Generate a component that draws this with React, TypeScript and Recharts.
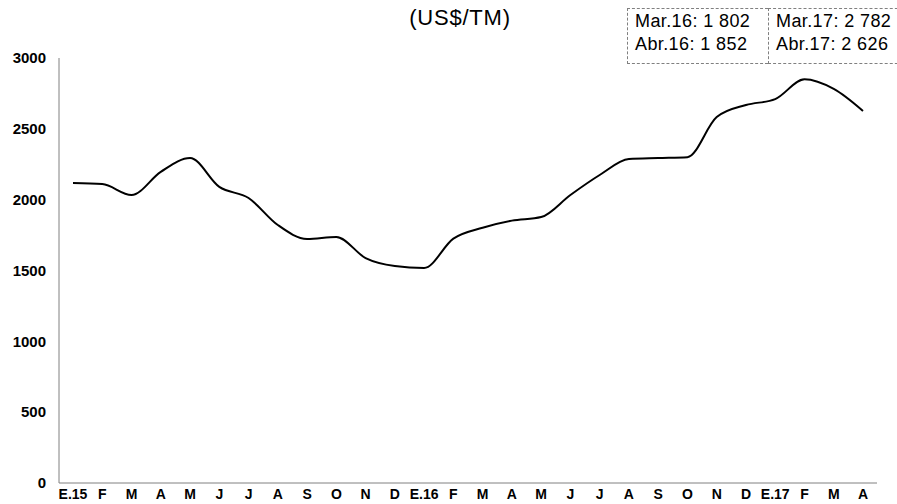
import React from "react";
import { LineChart, Line, XAxis, YAxis } from "recharts";

const categories = ["E.15","F","M","A","M","J","J","A","S","O","N","D","E.16","F","M","A","M","J","J","A","S","O","N","D","E.17","F","M","A"];
const prices = [2117,2110,2033,2196,2294,2090,2012,1821,1723,1737,1588,1532,1518,1725,1802,1852,1877,2033,2174,2287,2294,2300,2583,2668,2710,2850,2782,2626];
const yTicks = [0,500,1000,1500,2000,2500,3000];
const title = "(US$/TM)";
const box1 = ["Mar.16: 1 802","Abr.16: 1 852"];
const box2 = ["Mar.17: 2 782","Abr.17: 2 626"];

const data = categories.map((c, i) => ({ key: i, label: c, value: prices[i] }));

const font = "'Liberation Sans', Arial, sans-serif";

const boxStyle: React.CSSProperties = {
  position: "absolute",
  top: 8,
  height: 56,
  border: "1px dashed #808080",
  boxSizing: "border-box",
  padding: "1px 0 0 7px",
  fontSize: 18,
  lineHeight: "23px",
  letterSpacing: 0.4,
  whiteSpace: "nowrap",
};

export default function App() {
  return (
    <div style={{ position: "absolute", left: 0, top: 0, width: 897, height: 504, background: "#fff", fontFamily: font, overflow: "hidden" }}>
      <LineChart width={897} height={504} data={data} margin={{ top: 58, right: 20, bottom: 0, left: 0 }}>
        <XAxis
          dataKey="key"
          type="category"
          tickFormatter={(v: any) => categories[v]}
          interval={0}
          tickLine={false}
          tickSize={0}
          tickMargin={6}
          padding={{ left: 14, right: 14 }}
          axisLine={{ stroke: "#808080", strokeWidth: 1 }}
          tick={{ fill: "#000", fontSize: 14, fontWeight: "bold", fontFamily: font }}
          height={21}
        />
        <YAxis
          domain={[0, 3000]}
          ticks={yTicks}
          width={59}
          tickLine={false}
          tickSize={5}
          tickMargin={8}
          axisLine={{ stroke: "#808080", strokeWidth: 1 }}
          tick={{ fill: "#000", fontSize: 15, fontWeight: "bold", fontFamily: font }}
        />
        <Line type="monotone" dataKey="value" stroke="#000" strokeWidth={2} dot={false} isAnimationActive={false} />
      </LineChart>
      <div style={{ position: "absolute", left: 360, width: 200, top: 5, textAlign: "center", fontSize: 22, lineHeight: "26px", letterSpacing: 0.8, whiteSpace: "nowrap" }}>{title}</div>
      <div style={{ ...boxStyle, left: 627, width: 141, borderRight: "none" }}>
        <div>{box1[0]}</div>
        <div>{box1[1]}</div>
      </div>
      <div style={{ ...boxStyle, left: 768, width: 140 }}>
        <div>{box2[0]}</div>
        <div>{box2[1]}</div>
      </div>
    </div>
  );
}
